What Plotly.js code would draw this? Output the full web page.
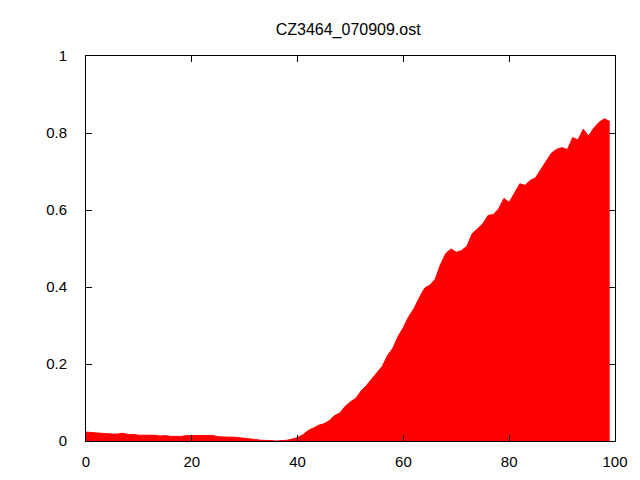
<!DOCTYPE html>
<html>
<head>
<meta charset="utf-8">
<script src="https://cdn.plot.ly/plotly-3.0.1.min.js"></script>
<style>html,body{margin:0;padding:0;background:#fff;}#chart{width:640px;height:480px;}</style>
</head>
<body>
<div id="chart"></div>
<script>
const titleText = "CZ3464_070909.ost";
const xValues = [
  0,1,2,3,4,5,6,7,8,9,10,11,12,13,14,15,16,17,18,19,
  20,21,22,23,24,25,26,27,28,29,30,31,32,33,34,35,36,37,38,39,
  40,41,42,43,44,45,46,47,48,49,50,51,52,53,54,55,56,57,58,59,
  60,61,62,63,64,65,66,67,68,69,70,71,72,73,74,75,76,77,78,79,
  80,81,82,83,84,85,86,87,88,89,90,91,92,93,94,95,96,97,98,99
];
const yValues = [
  0.023,0.022,0.020,0.020,0.018,0.018,0.018,0.020,0.017,0.017,
  0.015,0.015,0.015,0.015,0.013,0.014,0.012,0.012,0.012,0.014,
  0.014,0.014,0.014,0.013,0.014,0.011,0.010,0.010,0.010,0.009,
  0.007,0.006,0.004,0.002,0.002,0.001,0.000,0.001,0.002,0.005,
  0.009,0.016,0.027,0.034,0.041,0.045,0.053,0.066,0.073,0.090,
  0.102,0.111,0.130,0.144,0.160,0.178,0.194,0.222,0.241,0.272,
  0.295,0.323,0.344,0.372,0.397,0.405,0.420,0.458,0.487,0.499,
  0.490,0.495,0.506,0.538,0.552,0.564,0.586,0.588,0.603,0.630,
  0.620,0.645,0.668,0.664,0.677,0.684,0.707,0.727,0.748,0.758,
  0.762,0.757,0.788,0.782,0.810,0.792,0.813,0.828,0.837,0.830
];
const xTicks = [0,20,40,60,80,100];
const yTicks = [0,0.2,0.4,0.6,0.8,1];

const trace = {
  x: xValues, y: yValues, type: 'scatter', mode: 'lines',
  fill: 'tozeroy', fillcolor: '#ff0000',
  line: {color: '#ff0000', width: 1},
  hoverinfo: 'none'
};
const axisCommon = {
  showline: true, linecolor: '#000', linewidth: 1, mirror: 'allticks',
  ticks: 'inside', ticklen: 6, tickcolor: '#000', tickwidth: 1,
  showgrid: false, zeroline: false, fixedrange: true,
  tickfont: {family: 'Liberation Sans, Arial, sans-serif', size: 15, color: '#000'}
};
const layout = {
  width: 640, height: 480,
  margin: {l: 86, r: 25, t: 56, b: 39, pad: 0},
  paper_bgcolor: '#fff', plot_bgcolor: '#fff',
  showlegend: false,
  title: {text: titleText, x: 0.544, xanchor: 'center', y: 0.938, yanchor: 'middle',
          font: {family: 'Liberation Sans, Arial, sans-serif', size: 16, color: '#000'}},
  xaxis: Object.assign({}, axisCommon, {range: [0, 100], tickvals: xTicks, ticktext: xTicks.map(String), ticklabelstandoff: 7}),
  yaxis: Object.assign({}, axisCommon, {range: [0, 1], tickvals: yTicks, ticktext: yTicks.map(String), ticklabelstandoff: 15})
};
Plotly.newPlot('chart', [trace], layout, {displayModeBar: false, staticPlot: true});
</script>
</body>
</html>
